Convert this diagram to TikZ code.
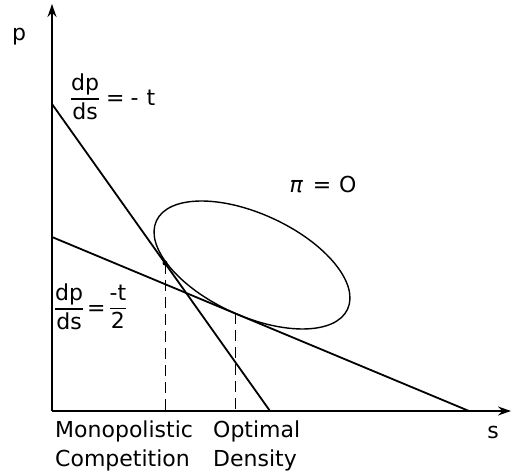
\documentclass[tikz,border=0pt]{standalone}
\usepackage{fontspec}
\setmainfont{DejaVu Sans}
\usetikzlibrary{arrows.meta,calc}
\newcommand{\myfr}[2]{$\vcenter{\hbox{\setlength{\arrayrulewidth}{1.3pt}\setlength{\tabcolsep}{0pt}\renewcommand{\arraystretch}{0.9}\begin{tabular}{c}#1\\[1pt]\hline\noalign{\vskip 3pt}#2\end{tabular}}}$}
\begin{document}
\begin{tikzpicture}[x=1pt,y=-1pt,
  axis/.style={line width=1.6pt,-{Stealth[length=13pt,width=9pt]}},
  curve/.style={line width=1.8pt},
  guide/.style={line width=1pt,dash pattern=on 11pt off 6pt},
  lbl/.style={font=\fontsize{22}{25}\selectfont,inner sep=0pt},
  ann/.style={font=\fontsize{22}{29}\selectfont,inner sep=0pt,anchor=north west,align=left}]
\useasboundingbox (0,0) rectangle (511,473);
% axes
\coordinate (O) at (52,411);
\coordinate (ytop) at (52,4);
\coordinate (xend) at (511,411);
\draw[axis] (O) -- (ytop);
\draw[axis] (O) -- (xend);
% lines
\coordinate (A1) at (52,104);
\coordinate (A2) at (270,411);
\coordinate (B1) at (52,237);
\coordinate (B2) at (469,411);
\draw[curve] (A1) -- (A2);
\draw[curve] (B1) -- (B2);
% ellipse
\coordinate (C) at (252,265);
\draw[line width=1.4pt,rotate around={-24.8:(C)}] (C) ellipse [x radius=105.3pt, y radius=51pt];
% tangent points and dashed guides
\coordinate (T1) at (165,263.1);
\coordinate (T2) at (235,313.2);
\fill (T1) circle [radius=2.5pt];
\draw[guide] (T1) -- (T1 |- O);
\draw[guide] (T2) -- (T2 |- O);
% labels
\node[lbl] (p) at (19,37) {p};
\node[lbl] (s) at (493,432) {s};
\node[lbl,anchor=west] (f1) at (71,100) {\myfr{dp}{ds}\hspace{7pt}=\hspace{6pt}-\hspace{8pt}t};
\node[lbl,anchor=west] (f2) at (55,310) {\myfr{dp}{ds}\hspace{4pt}=\hspace{4pt}\myfr{-t}{2}};
\node[lbl] (pi) at (323,185) {{\itshape π}\hspace{10pt}=\hspace{8pt}O};
\node[ann] (mono) at (55,421) {Monopolistic\\Competition};
\node[ann] (opt) at (213,421) {Optimal\\Density};
\end{tikzpicture}
\end{document}
